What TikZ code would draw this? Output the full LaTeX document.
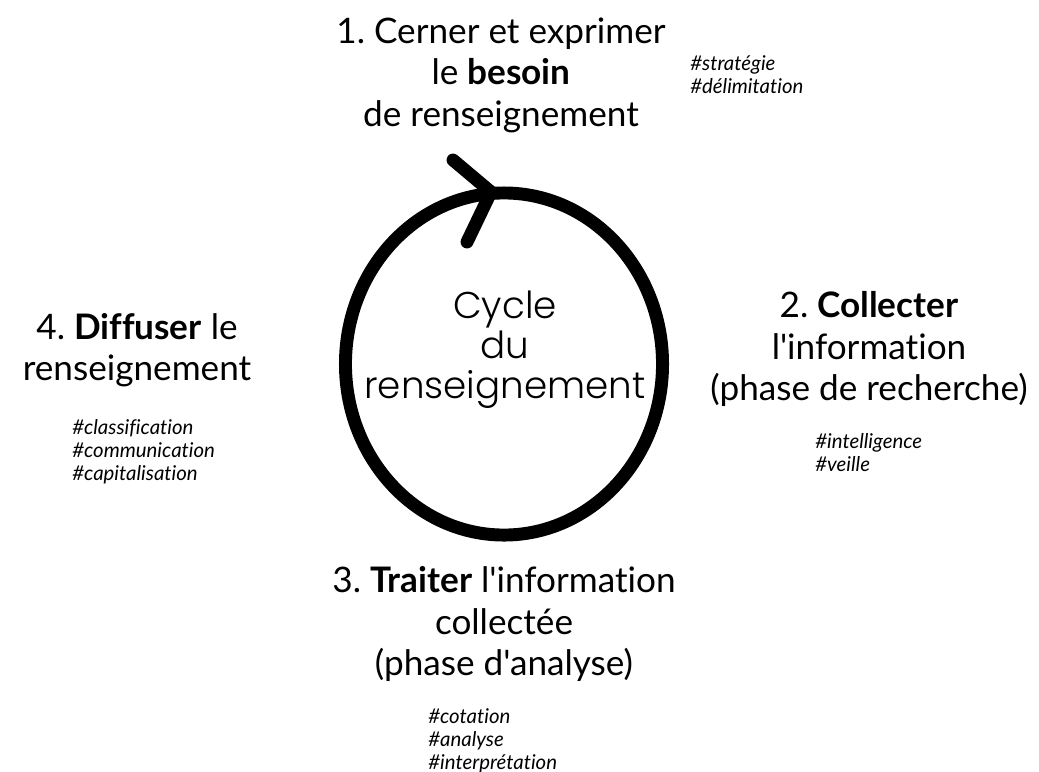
\documentclass[tikz,border=0pt]{standalone}
\usepackage{fontspec}
\setmainfont{Lato}[Ligatures={TeXOff,NoCommon}]
\IfFontExistsTF{Poppins Light}
	{\newfontfamily\cyclefont{Poppins Light}[Ligatures={TeXOff,NoCommon}]}
	{\newfontfamily\cyclefont{Poppins}[Ligatures={TeXOff,NoCommon}]}
\usepackage{tikz}
\usetikzlibrary{calc}
\usetikzlibrary{positioning}
\frenchspacing

\tikzset{
	phasetext/.style={align=center, inner sep=0pt, font=\fontsize{25}{29.5}\selectfont},
	tagtext/.style={align=left, inner sep=0pt, anchor=north west, font=\fontsize{14.5}{16.3}\selectfont\itshape},
	ringline/.style={black, line width=9.2pt, line cap=round, line join=round}
}

\begin{document}
\begin{tikzpicture}[x=0.025cm, y=-0.025cm]

%\draw[step=50, gray, very thin, dotted] (0,0) grid (1039,771);
\useasboundingbox (0,0) rectangle (1039,771);

\coordinate (ringc) at (504,364);
\node at (505,350) [align=center, inner sep=0pt, font=\fontsize{26.5}{28.5}\selectfont\cyclefont] (cycle)
		{Cycle\\ du\\ renseignement};

\draw[ringline] (ringc) ellipse [x radius=3.9625cm, y radius=4.275cm];
\coordinate (tip) at (491,192);
\draw[ringline] (453,160) -- (tip) -- (467,242);

\node at (501,75) [phasetext] (besoin)
		{1. Cerner et exprimer\\ le \textbf{besoin}\\ de renseignement};
\node at (690,55) [tagtext] (besointags)
		{\#stratégie\\ \#délimitation};

\node at (869,349) [phasetext] (collecte)
		{2. \textbf{Collecter}\\ l'information\\ (phase de recherche)};
\node at (815,433) [tagtext] (collectetags)
		{\#intelligence\\ \#veille};

\node at (504,624) [phasetext] (traitement)
		{3. \textbf{Traiter} l'information\\ collectée\\ (phase d'analyse)};
\node at (428,708) [tagtext] (traitementtags)
		{\#cotation\\ \#analyse\\ \#interprétation};

\node at (137,350) [phasetext] (diffusion)
		{4. \textbf{Diffuser} le\\ renseignement};
\node at (72,419) [tagtext] (diffusiontags)
		{\#classification\\ \#communication\\ \#capitalisation};

\end{tikzpicture}
\end{document}
